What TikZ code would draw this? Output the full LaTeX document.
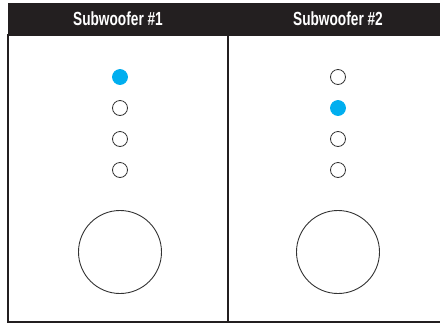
\documentclass[tikz,border=0pt]{standalone}
\usepackage{fontspec}
\newfontfamily\headfont[FakeStretch=0.72]{Liberation Sans}
\definecolor{headdark}{RGB}{35,31,32}
\definecolor{ledblue}{RGB}{0,174,239}
\definecolor{edgegray}{RGB}{51,51,51}
\usetikzlibrary{positioning}

\begin{document}
\begin{tikzpicture}[
    x=1pt, y=-1pt,
    panel/.style={draw=headdark, line width=1.2pt, minimum width=220pt, minimum height=287pt, inner sep=0pt},
    head/.style={fill=headdark, text=white, minimum width=220pt, minimum height=32pt, inner sep=0pt, font=\headfont\fontsize{19}{19}\selectfont\bfseries},
    led/.style={circle, draw=edgegray, line width=0.8pt, minimum size=15pt, inner sep=0pt},
    ledon/.style={led, draw=ledblue, fill=ledblue},
    woofer/.style={circle, draw=edgegray, line width=0.9pt, minimum size=83pt, inner sep=0pt}
]
    \useasboundingbox (0,0) rectangle (440,325);

    % columns
    \node[panel] (colA) at (118, 178.5) {};
    \node[panel] (colB) at (338, 178.5) {};
    \node[head] (hdrA) at (118, 19) {Subwoofer \#1};
    \node[head] (hdrB) at (338, 19) {Subwoofer \#2};

    % Subwoofer #1
    \node[ledon] (ledA1) at (120, 77) {};
    \node[led] (ledA2) at (120, 108) {};
    \node[led] (ledA3) at (120, 139) {};
    \node[led] (ledA4) at (120, 170) {};
    \node[woofer] (woofA) at (120, 252) {};

    % Subwoofer #2
    \node[led] (ledB1) at (338, 77) {};
    \node[ledon] (ledB2) at (338, 108) {};
    \node[led] (ledB3) at (338, 139) {};
    \node[led] (ledB4) at (338, 170) {};
    \node[woofer] (woofB) at (338, 252) {};
\end{tikzpicture}
\end{document}
